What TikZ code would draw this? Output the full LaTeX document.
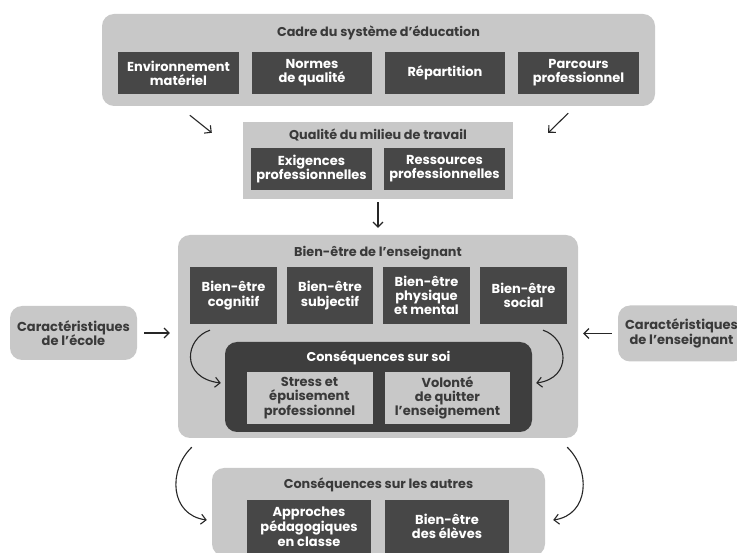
\documentclass[tikz,border=0pt]{standalone}
\usepackage{fontspec}
\setmainfont{Poppins}
\usetikzlibrary{arrows.meta,calc}
\definecolor{panelgray}{HTML}{C8C8C8}
\definecolor{tilegray}{HTML}{474747}
\definecolor{coregray}{HTML}{3E3E3E}
\definecolor{ink}{HTML}{3A3A3A}

\begin{document}
\begin{tikzpicture}[x=1pt,y=-1pt,
  panel/.style={fill=panelgray, rounded corners=12pt, inner sep=0pt},
  tile/.style={fill=tilegray, text=white, inner sep=0pt, align=center,
    font=\bfseries\fontsize{13}{14.2}\selectfont},
  softtile/.style={fill=panelgray, text=ink, inner sep=0pt, align=center,
    font=\bfseries\fontsize{13}{14.2}\selectfont},
  heading/.style={text=ink, inner sep=0pt, font=\bfseries\fontsize{12.8}{14}\selectfont},
  side/.style={fill=panelgray, text=ink, rounded corners=12pt, inner sep=0pt, align=center,
    font=\bfseries\fontsize{13}{14.5}\selectfont},
  flow/.style={-{Straight Barb[length=5pt,width=10pt]}, line width=1.1pt, draw=black!85},
]
\path[use as bounding box] (0,0) rectangle (737,553);
\begin{scope}
\clip (0,0) rectangle (737,553);

% --- Cadre du système d'éducation
\node[panel, minimum width=553pt, minimum height=92pt] (cadre) at (378.5,60) {};
\node[heading] (cadreT) at (378.5,33) {Cadre du système d’éducation};
\node[tile, minimum width=121pt, minimum height=42pt] (env) at (178.5,73) {Environnement\\matériel};
\node[tile, minimum width=120pt, minimum height=42pt] (normes) at (312,73) {Normes\\de qualité};
\node[tile, minimum width=120pt, minimum height=42pt] (repart) at (445,73) {Répartition};
\node[tile, minimum width=121pt, minimum height=42pt] (parcours) at (578.5,73) {Parcours\\professionnel};

% --- Qualité du milieu de travail
\node[panel, rounded corners=0pt, minimum width=270pt, minimum height=77pt] (qualite) at (378,160.5) {};
\node[heading] (qualiteT) at (378,135) {Qualité du milieu de travail};
\node[tile, minimum width=121pt, minimum height=42pt] (exig) at (311.5,169) {Exigences\\professionnelles};
\node[tile, minimum width=121pt, minimum height=42pt] (ress) at (444.5,169) {Ressources\\professionnelles};

% --- Bien-être de l'enseignant
\node[panel, minimum width=400pt, minimum height=203pt] (bienetre) at (378,336.5) {};
\node[heading] (bienetreT) at (378,253) {Bien-être de l’enseignant};
\node[tile, minimum width=87pt, minimum height=57pt] (cog) at (233.5,295.5) {Bien-être\\cognitif};
\node[tile, minimum width=86pt, minimum height=57pt] (subj) at (330,295.5) {Bien-être\\subjectif};
\node[tile, minimum width=87pt, minimum height=57pt] (phys) at (426.5,295.5) {Bien-être\\physique\\et mental};
\node[tile, minimum width=87pt, minimum height=57pt] (soc) at (523.5,295.5) {Bien-être\\social};

% --- Conséquences sur soi
\node[fill=coregray, rounded corners=12pt, inner sep=0pt, minimum width=307pt, minimum height=90pt] (conssoi) at (378.5,387) {};
\node[heading, text=white] (conssoiT) at (378.5,358) {Conséquences sur soi};
\node[softtile, minimum width=126pt, minimum height=52pt] (stress) at (309.5,398) {Stress et\\épuisement\\professionnel};
\node[softtile, minimum width=125pt, minimum height=52pt] (volonte) at (447.5,398) {Volonté\\de quitter\\l’enseignement};

% --- Caractéristiques (côtés)
\node[side, minimum width=127pt, minimum height=54pt] (ecole) at (73.5,333) {Caractéristiques\\de l’école};
\node[side, minimum width=127pt, minimum height=56pt] (ens) at (681.5,333.5) {Caractéristiques\\de l’enseignant};

% --- Conséquences sur les autres
\node[panel, minimum width=333pt, minimum height=88pt] (autres) at (378.5,512) {};
\node[heading] (autresT) at (378.5,485) {Conséquences sur les autres};
\node[tile, minimum width=124pt, minimum height=53pt] (approches) at (309,526.5) {Approches\\pédagogiques\\en classe};
\node[tile, minimum width=124pt, minimum height=53pt] (eleves) at (447,526.5) {Bien-être\\des élèves};

% --- Flèches
\draw[flow] ($(cadre.south west)+(88,9)$) -- ($(qualite.north west)+(-31,11)$);
\draw[flow] ($(cadre.south east)+(-87,7)$) -- ($(qualite.north east)+(35,11)$);
\draw[flow, shorten <=3pt, shorten >=7pt] (qualite) -- (bienetre);
\draw[flow, shorten <=7pt, shorten >=8pt] (ecole.east) -- (ecole.east -| bienetre.west);
\draw[flow, shorten <=6pt, shorten >=5pt] (ens.west) -- (ens.west -| bienetre.east);

\draw[flow] ($(cog.south)+(-23.5,6)$) .. controls ($(cog.south)+(-48.5,14)$) and ($(conssoi.west)+(-45,-9)$) .. ($(conssoi.west)+(-4,-4)$);
\draw[flow] ($(soc.south)+(19.5,6)$) .. controls ($(soc.south)+(44.5,14)$) and ($(conssoi.east)+(41,-9)$) .. ($(conssoi.east)+(4,-4)$);

\draw[flow] ($(bienetre.south west)+(14,9)$) .. controls ($(bienetre.south west)+(-10,32)$) and ($(autres.west)+(-42,3)$) .. ($(autres.west)+(-5,8)$);
\draw[flow] ($(bienetre.south east)+(-11,9)$) .. controls ($(bienetre.south east)+(13,32)$) and ($(autres.east)+(44,3)$) .. ($(autres.east)+(8,8)$);
\end{scope}
\end{tikzpicture}
\end{document}
